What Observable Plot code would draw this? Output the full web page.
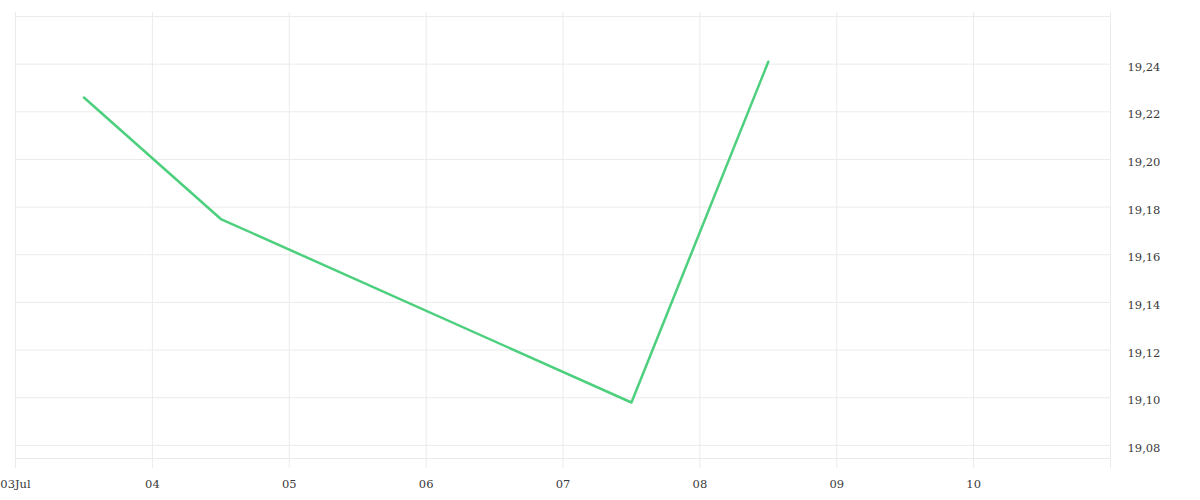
<!DOCTYPE html>
<html>
<head>
<meta charset="utf-8">
<script src="https://cdn.jsdelivr.net/npm/d3@7"></script>
<script src="https://cdn.jsdelivr.net/npm/@observablehq/plot@0.6"></script>
<style>
  html, body { margin: 0; padding: 0; background: #fff; }
  #chart svg { display: block; }
</style>
</head>
<body>
<div id="chart"></div>
<script>
const dates = ["2025-07-03T12:00:00Z", "2025-07-04T12:00:00Z", "2025-07-07T12:00:00Z", "2025-07-08T12:00:00Z"];
const values = [19.226, 19.175, 19.098, 19.241];
const yTicks = [19.08, 19.10, 19.12, 19.14, 19.16, 19.18, 19.20, 19.22, 19.24];
const yGrid = [19.08, 19.10, 19.12, 19.14, 19.16, 19.18, 19.20, 19.22, 19.24, 19.26];
const yDomain = [19.0745, 19.26];
const xDays = ["2025-07-03", "2025-07-04", "2025-07-05", "2025-07-06", "2025-07-07", "2025-07-08", "2025-07-09", "2025-07-10", "2025-07-11"];
const xTickDays = xDays.slice(0, 8);

const data = dates.map((d, i) => ({date: new Date(d), value: values[i]}));
const dayDates = xDays.map(d => new Date(d + "T00:00:00Z"));
const tickDates = xTickDays.map(d => new Date(d + "T00:00:00Z"));

const fmtY = v => d3.format(".2f")(v).replace(".", ",");
const fmtX = (d, i) => i === 0 ? d3.utcFormat("%d%b")(d) : d3.utcFormat("%d")(d);

const chart = Plot.plot({
  width: 1200,
  height: 500,
  marginLeft: 15,
  marginRight: 90,
  marginTop: 16,
  marginBottom: 42,
  style: {fontFamily: "'DejaVu Serif', serif", fontSize: "11.5px", color: "#333", background: "#fff"},
  x: {type: "utc", domain: [dayDates[0], dayDates[dayDates.length - 1]]},
  y: {domain: yDomain},
  marks: [
    Plot.ruleY(yGrid, {stroke: "#ebebeb", strokeWidth: 1}),
    Plot.ruleY([yDomain[0]], {stroke: "#ebebeb", strokeWidth: 1}),
    Plot.ruleX(dayDates, {stroke: "#ebebeb", strokeWidth: 1, insetTop: -4, insetBottom: -10}),
    Plot.axisY(yTicks, {anchor: "right", tickSize: 0, tickPadding: 17, tickFormat: fmtY, textAnchor: "start", fill: "#3a3a3a", dy: 3, label: null}),
    Plot.axisX(tickDates, {anchor: "bottom", tickSize: 0, tickPadding: 21, tickFormat: fmtX, fill: "#3a3a3a", label: null}),
    Plot.line(data, {x: "date", y: "value", stroke: "#4cd07d", strokeWidth: 2.5, curve: "linear"})
  ]
});
document.getElementById("chart").appendChild(chart);
</script>
</body>
</html>
